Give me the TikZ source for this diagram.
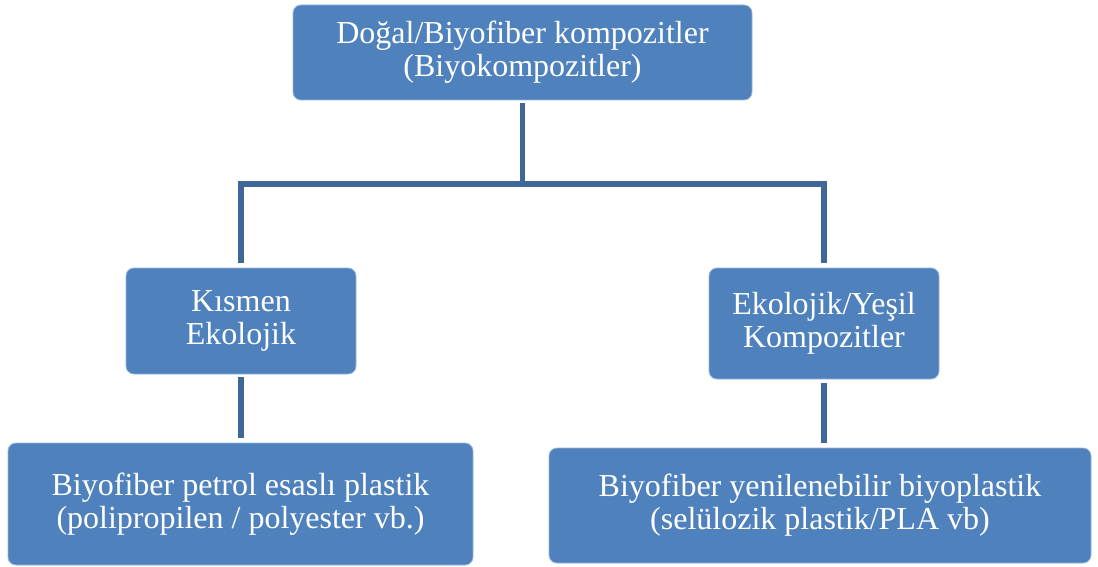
\documentclass[tikz,border=0pt]{standalone}
\usepackage{fontspec}
\setmainfont{Liberation Serif}
\definecolor{boxfill}{RGB}{79,129,189}
\definecolor{boxedge}{RGB}{150,180,220}
\definecolor{linecol}{RGB}{63,103,152}
\tikzset{
  x=1pt,y=-1pt,
  box/.style={rectangle, rounded corners=8pt, fill=boxfill, draw=boxedge, line width=0.8pt,
    text=white, align=center, inner sep=0pt,
    font=\fontspec{Liberation Serif}\fontsize{32}{33}\selectfont},
  conn/.style={draw=linecol, line width=5.5pt, line join=miter}
}
\begin{document}
\begin{tikzpicture}
\useasboundingbox (0,0) rectangle (1098,567);
\node[box, minimum width=459pt, minimum height=95pt] (top) at (522.5,52.5)
  {Doğal/Biyofiber kompozitler\\(Biyokompozitler)};
\node[box, minimum width=230pt, minimum height=106pt] (lm) at (241,321)
  {Kısmen\\Ekolojik};
\node[box, minimum width=230pt, minimum height=111pt] (rm) at (824,323.5)
  {Ekolojik/Yeşil\\Kompozitler};
\node[box, minimum width=465pt, minimum height=122pt] (lb) at (240.5,504)
  {Biyofiber petrol esaslı plastik\\(polipropilen / polyester vb.)};
\node[box, minimum width=542pt, minimum height=115pt] (rb) at (820,505.5)
  {Biyofiber yenilenebilir biyoplastik\\(selülozik plastik/PLA vb)};
\coordinate (bus) at (522.5,184);
\draw[conn, shorten <=3pt] (top.south) -- (bus);
\draw[conn, shorten <=5pt, shorten >=5pt] (lm.north) |- (bus) -| (rm.north);
\draw[conn, shorten <=3pt, shorten >=5pt] (lm.south) -- (lm.south |- lb.north);
\draw[conn, shorten <=4pt, shorten >=5pt] (rm.south) -- (rm.south |- rb.north);
\end{tikzpicture}
\end{document}
